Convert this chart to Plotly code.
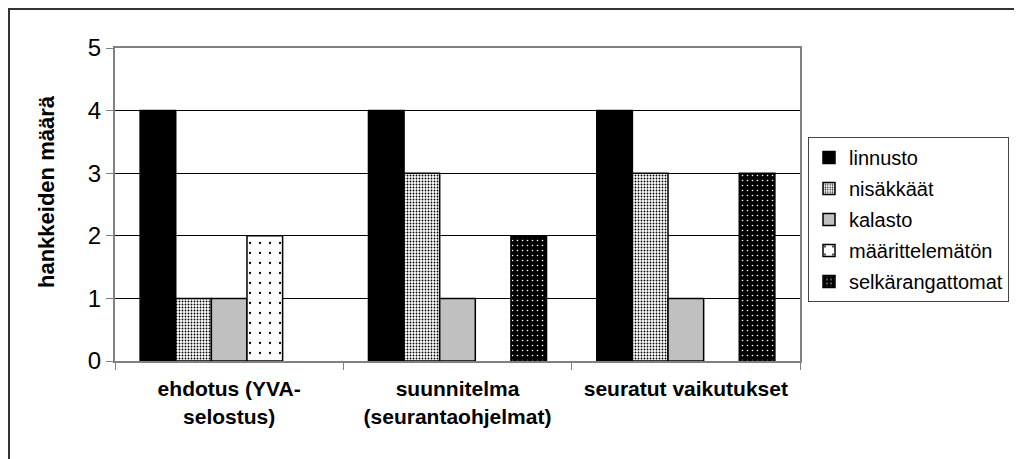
import plotly.graph_objects as go

categories = ["ehdotus (YVA-<br>selostus)", "suunnitelma<br>(seurantaohjelmat)", "seuratut vaikutukset"]
series_names = ["linnusto", "nisäkkäät", "kalasto", "määrittelemätön", "selkärangattomat"]
linnusto = [4, 4, 4]
nisakkaat = [1, 3, 3]
kalasto = [1, 1, 1]
maarittelematon = [2, None, None]
selkarangattomat = [None, 2, 3]
y_title = "hankkeiden määrä"
y_ticks = [0, 1, 2, 3, 4, 5]

FONT = "Liberation Sans, Arial, sans-serif"
# the page body has an 8px margin, so the figure is placed at (8, 8) on screen
OFF = 8
W, H = 1022 - OFF, 459 - OFF
# plot area in screen pixels
SL, SR, ST, SB = 115, 800, 48, 361
L, R, T, B = SL - OFF, SR - OFF, ST - OFF, SB - OFF
pw, ph = R - L, B - T

def px(sx):
    return (sx - OFF - L) / pw

def py(sy):
    return (B - (sy - OFF)) / ph

styles = [
    dict(color="black", pattern=None),
    dict(color="white", pattern=dict(shape=".", fgcolor="black", bgcolor="white", size=3, solidity=0.3, fillmode="replace")),
    dict(color="#c0c0c0", pattern=None),
    dict(color="white", pattern=dict(shape=".", fgcolor="black", bgcolor="white", size=10, solidity=0.04, fillmode="replace")),
    dict(color="black", pattern=dict(shape=".", fgcolor="white", bgcolor="black", size=5, solidity=0.08, fillmode="replace")),
]
values = [linnusto, nisakkaat, kalasto, maarittelematon, selkarangattomat]

fig = go.Figure()
for i, (name, vals, st) in enumerate(zip(series_names, values, styles)):
    marker = dict(color=st["color"], line=dict(color="black", width=1.5))
    if st["pattern"]:
        marker["pattern"] = st["pattern"]
    fig.add_trace(go.Bar(name=name, x=categories, y=vals, marker=marker, legendgroup="g%d" % i))

fig.update_layout(
    width=W, height=H,
    margin=dict(l=L, r=W - R, t=T, b=H - B, pad=0, autoexpand=False),
    paper_bgcolor="white", plot_bgcolor="white",
    barmode="group", bargap=0.22, bargroupgap=0,
    font=dict(family=FONT, color="black", size=20),
    showlegend=True,
    legend=dict(
        x=px(808), y=py(137), xanchor="left", yanchor="top",
        bordercolor="#444444", borderwidth=1, bgcolor="white",
        font=dict(family=FONT, size=20, color="black"),
        tracegroupgap=2, itemwidth=30,
    ),
    xaxis=dict(
        automargin=False,
        showgrid=False, showline=True, linecolor="#808080", linewidth=2, mirror=True,
        ticks="outside", tickson="boundaries", ticklen=7, tickcolor="#808080",
        ticklabelstandoff=8,
        tickfont=dict(family=FONT, size=21, color="black", weight="bold"),
    ),
    yaxis=dict(
        automargin=False,
        range=[0, 5], tickvals=y_ticks, showgrid=True, gridcolor="black", gridwidth=1,
        zeroline=False, showline=True, linecolor="#808080", linewidth=2, mirror=True,
        ticks="outside", ticklen=7, tickcolor="#808080",
        tickfont=dict(family=FONT, size=24, color="black"),
    ),
    annotations=[dict(
        text="<b>" + y_title + "</b>", textangle=-90, xref="paper", yref="paper",
        x=px(46), y=py(192), xanchor="center", yanchor="middle", showarrow=False,
        font=dict(family=FONT, size=22, color="black"),
    )],
    shapes=[dict(
        type="rect", xref="paper", yref="paper",
        x0=px(OFF + 1), x1=px(1060), y0=py(OFF + 1), y1=py(500),
        line=dict(color="#333333", width=2), fillcolor="rgba(0,0,0,0)", layer="below",
    )],
)

fig.write_html("out.html")
